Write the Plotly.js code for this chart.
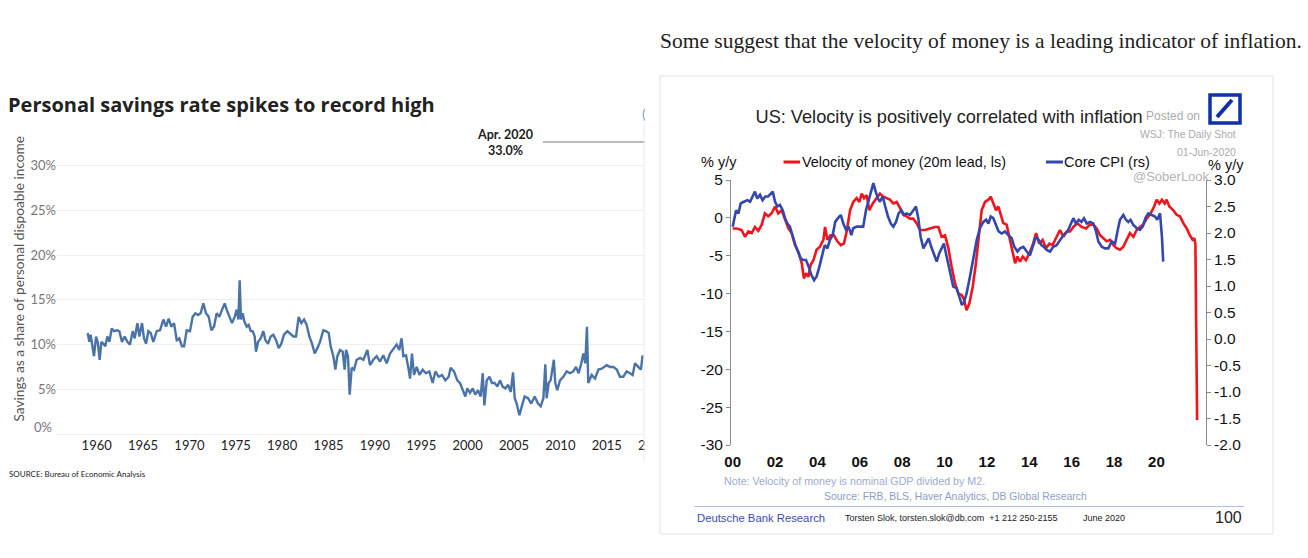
<!DOCTYPE html>
<html><head><meta charset="utf-8">
<script src="https://cdn.plot.ly/plotly-3.0.1.min.js"></script>
<style>
html,body{margin:0;padding:0;background:#fff;width:1308px;height:558px;overflow:hidden}
#leftWrap{position:absolute;left:0;top:0;width:645px;height:558px;overflow:hidden}
#left{position:absolute;left:0;top:0;width:720px;height:558px}
#right{position:absolute;left:650px;top:0;width:658px;height:558px}
</style></head><body>
<div id="leftWrap"><div id="left"></div></div>
<div id="right"></div>
<script>
// ---------- Left chart: personal savings rate (%) ----------
const savingsYear = [1959.03,1959.21,1959.35,1959.53,1959.71,1959.93,1960.11,1960.32,1960.5,1960.72,1960.93,1961.15,1961.37,1961.62,1961.87,1962.16,1962.44,1962.73,1963.02,1963.31,1963.59,1963.88,1964.1,1964.39,1964.6,1964.89,1965.1,1965.32,1965.57,1965.82,1966.11,1966.47,1966.83,1967.19,1967.48,1967.76,1968.05,1968.34,1968.63,1968.91,1969.2,1969.42,1969.71,1970.06,1970.35,1970.64,1970.93,1971.21,1971.5,1971.79,1972.08,1972.37,1972.65,1972.94,1973.23,1973.52,1973.8,1974.02,1974.31,1974.59,1974.88,1975.1,1975.28,1975.42,1975.56,1975.74,1975.92,1976.18,1976.39,1976.61,1976.82,1977.04,1977.18,1977.4,1977.69,1977.97,1978.19,1978.48,1978.76,1979.05,1979.34,1979.63,1979.91,1980.2,1980.56,1980.92,1981.21,1981.5,1981.78,1982.07,1982.36,1982.65,1982.93,1983.22,1983.51,1983.8,1984.08,1984.44,1984.73,1985.02,1985.23,1985.52,1985.74,1985.95,1986.24,1986.53,1986.74,1986.89,1987.1,1987.28,1987.5,1987.75,1988.04,1988.4,1988.76,1989.19,1989.47,1989.83,1990.19,1990.55,1990.91,1991.27,1991.63,1992.06,1992.35,1992.63,1992.88,1993.07,1993.36,1993.64,1993.79,1994.0,1994.22,1994.51,1994.8,1995.16,1995.51,1995.87,1996.23,1996.52,1996.88,1997.24,1997.6,1997.96,1998.17,1998.53,1998.89,1999.18,1999.47,1999.75,1999.97,2000.26,2000.55,2000.83,2001.12,2001.41,2001.63,2001.81,2002.06,2002.35,2002.63,2002.92,2003.21,2003.49,2003.78,2004.07,2004.36,2004.65,2004.9,2005.08,2005.29,2005.58,2005.87,2006.15,2006.51,2006.87,2007.23,2007.59,2007.88,2008.17,2008.38,2008.52,2008.74,2008.95,2009.3,2009.45,2009.67,2009.96,2010.32,2010.68,2011.04,2011.4,2011.69,2011.97,2012.26,2012.48,2012.69,2012.87,2013.01,2013.38,2013.74,2014.1,2014.46,2015.0,2015.36,2015.72,2016.08,2016.43,2016.79,2017.15,2017.51,2017.8,2018.05,2018.4,2018.69,2018.87];
const savingsRate = [11.3,10.3,11.1,10.1,8.7,10.9,10.3,8.3,10.3,10.1,9.8,10.9,10.3,11.8,11.5,11.6,11.5,10.3,10.9,10.3,10.0,11.5,10.7,12.4,10.9,12.4,10.7,10.1,11.5,11.3,10.3,11.5,11.6,12.8,12.0,12.9,12.0,12.4,10.5,10.7,9.8,9.8,11.6,11.5,13.1,13.5,13.3,13.5,14.6,13.5,13.1,11.6,12.0,13.5,13.1,13.9,14.6,13.9,13.1,12.4,13.1,13.9,12.8,17.2,12.8,13.5,12.6,12.0,12.2,11.5,11.5,10.9,9.2,10.3,10.7,11.5,10.5,10.1,10.9,11.1,10.5,9.6,10.1,11.1,11.5,11.1,10.9,10.9,13.1,12.4,12.8,12.2,10.9,10.1,9.0,9.6,10.3,11.6,11.5,11.3,9.8,8.7,7.2,8.7,9.4,9.2,7.2,9.4,8.7,4.4,7.4,7.2,8.3,8.5,8.3,9.4,7.7,8.3,8.7,8.1,8.8,7.9,9.0,9.6,10.0,9.4,10.7,8.7,8.8,7.2,6.2,9.0,6.6,7.5,6.6,7.2,6.8,7.0,5.7,7.0,6.4,6.6,6.0,6.4,7.4,7.0,6.0,5.7,4.9,4.2,5.1,4.6,5.1,4.4,4.9,4.2,6.8,3.2,6.0,6.4,5.7,5.7,5.3,6.0,5.3,5.1,5.5,4.7,6.9,4.0,3.4,2.1,3.2,4.2,4.0,3.4,4.2,3.4,3.1,4.0,7.8,4.0,5.7,6.0,8.3,5.7,4.9,6.0,6.4,7.0,6.8,7.0,7.5,6.8,7.9,9.0,7.9,12.0,5.7,6.6,6.2,7.2,7.3,7.7,7.5,7.5,7.2,6.4,6.4,7.0,6.8,6.6,7.9,7.5,7.2,8.8];
const leftYearTicks = [1960,1965,1970,1975,1980,1985,1990,1995,2000,2005,2010,2015,2020];
const leftPctTicks = [0,5,10,15,20,25,30];
const leftPctLabels = ['0%','5%','10%','15%','20%','25%','30%'];

// ---------- Right chart: velocity of money vs core CPI ----------
const velYear = [2000.0,2000.19,2000.42,2000.58,2000.74,2000.9,2001.05,2001.21,2001.37,2001.52,2001.68,2001.84,2002.0,2002.15,2002.31,2002.47,2002.63,2002.78,2002.94,2003.1,2003.26,2003.36,2003.46,2003.57,2003.68,2003.81,2003.96,2004.12,2004.28,2004.36,2004.47,2004.62,2004.78,2004.94,2005.1,2005.25,2005.38,2005.54,2005.69,2005.85,2005.98,2006.09,2006.2,2006.32,2006.45,2006.61,2006.8,2006.95,2007.11,2007.27,2007.42,2007.58,2007.74,2007.9,2008.05,2008.21,2008.37,2008.52,2008.68,2008.84,2009.08,2009.31,2009.55,2009.71,2009.86,2010.02,2010.18,2010.33,2010.49,2010.65,2010.81,2010.92,2011.04,2011.17,2011.33,2011.48,2011.59,2011.75,2011.91,2012.07,2012.18,2012.3,2012.43,2012.54,2012.65,2012.77,2012.93,2013.09,2013.22,2013.33,2013.44,2013.56,2013.69,2013.84,2014.0,2014.16,2014.32,2014.47,2014.63,2014.79,2014.95,2015.1,2015.29,2015.45,2015.61,2015.76,2015.92,2016.08,2016.27,2016.47,2016.68,2016.86,2017.02,2017.18,2017.34,2017.49,2017.65,2017.81,2017.97,2018.12,2018.28,2018.44,2018.6,2018.75,2018.91,2019.07,2019.22,2019.38,2019.54,2019.73,2019.89,2020.01,2020.14,2020.26,2020.39,2020.48,2020.61,2020.8,2020.95,2021.11,2021.27,2021.43,2021.58,2021.71,2021.79,2021.84,2021.92];
const velocity = [-1.4,-1.4,-1.6,-2.5,-1.8,-2.0,-1.2,-1.7,-0.9,0.6,0.2,0.6,1.5,0.6,1.0,-0.1,-1.4,-2.0,-3.6,-4.5,-6.0,-8.0,-7.3,-7.8,-6.2,-5.6,-4.2,-3.8,-2.9,-1.2,-2.9,-2.3,-2.3,-3.1,-3.6,-3.4,-1.8,1.0,2.1,2.6,2.1,3.2,2.6,3.0,1.0,1.9,2.6,3.2,2.8,2.6,2.4,1.9,2.1,1.3,0.4,0.2,-0.1,-0.1,-0.7,-1.6,-1.6,-1.4,-1.2,-1.2,-2.5,-2.3,-4.0,-6.4,-8.6,-10.0,-10.2,-10.8,-12.2,-11.3,-9.1,-6.0,-2.9,1.0,2.1,2.4,2.8,1.9,1.0,1.5,0.4,-0.7,-0.9,-2.9,-4.2,-6.0,-5.1,-5.8,-5.1,-5.6,-4.7,-3.6,-2.0,-3.4,-2.9,-4.0,-3.4,-3.6,-2.5,-1.6,-2.5,-1.8,-1.8,-1.2,-0.7,-1.2,-1.4,-0.9,-0.9,-1.4,-2.3,-2.7,-3.1,-2.9,-3.6,-4.0,-4.2,-3.8,-2.9,-2.0,-2.5,-1.6,-1.2,-0.9,-0.1,0.6,1.5,2.4,1.9,2.4,1.9,2.4,1.5,1.0,0.4,0.2,-0.7,-1.4,-2.3,-2.9,-2.7,-3.5,-26.7];
const cpiYear = [2000.0,2000.06,2000.16,2000.27,2000.38,2000.53,2000.69,2000.82,2000.94,2001.05,2001.16,2001.29,2001.41,2001.54,2001.67,2001.79,2001.89,2002.0,2002.11,2002.23,2002.36,2002.47,2002.58,2002.7,2002.83,2002.96,2003.08,2003.21,2003.33,2003.46,2003.59,2003.71,2003.84,2003.96,2004.09,2004.21,2004.34,2004.47,2004.59,2004.72,2004.84,2004.97,2005.1,2005.22,2005.35,2005.47,2005.6,2005.69,2005.85,2006.01,2006.16,2006.29,2006.42,2006.54,2006.64,2006.75,2006.86,2006.95,2007.08,2007.2,2007.33,2007.46,2007.58,2007.71,2007.83,2007.96,2008.09,2008.21,2008.37,2008.53,2008.65,2008.76,2008.87,2009.0,2009.12,2009.25,2009.37,2009.5,2009.63,2009.75,2009.88,2009.97,2010.1,2010.26,2010.41,2010.57,2010.7,2010.82,2010.92,2011.04,2011.2,2011.36,2011.52,2011.67,2011.83,2011.96,2012.07,2012.18,2012.3,2012.43,2012.55,2012.7,2012.85,2013.01,2013.17,2013.29,2013.44,2013.56,2013.72,2013.88,2014.03,2014.16,2014.32,2014.44,2014.57,2014.69,2014.82,2014.98,2015.13,2015.29,2015.45,2015.61,2015.8,2015.95,2016.08,2016.2,2016.33,2016.46,2016.58,2016.71,2016.87,2017.02,2017.15,2017.26,2017.42,2017.57,2017.73,2017.89,2018.05,2018.16,2018.28,2018.44,2018.56,2018.67,2018.78,2018.91,2019.07,2019.22,2019.35,2019.48,2019.62,2019.78,2019.93,2020.04,2020.17,2020.26,2020.32];
const coreCPI = [2.12,2.25,2.43,2.37,2.56,2.59,2.62,2.59,2.69,2.78,2.65,2.72,2.62,2.69,2.69,2.75,2.78,2.59,2.50,2.53,2.43,2.28,2.18,2.12,1.93,1.77,1.65,1.52,1.49,1.49,1.36,1.21,1.11,1.18,1.36,1.58,1.77,1.71,1.87,1.96,2.21,2.28,2.34,2.18,2.06,2.12,1.96,2.09,2.12,2.12,2.12,2.43,2.62,2.81,2.94,2.78,2.65,2.59,2.69,2.50,2.31,2.18,2.12,2.21,2.37,2.43,2.34,2.37,2.34,2.43,2.50,2.28,1.93,1.71,1.80,1.90,1.74,1.58,1.46,1.62,1.74,1.80,1.55,1.24,0.99,0.96,0.77,0.64,0.70,0.86,1.18,1.49,1.87,2.09,2.21,2.25,2.18,2.31,2.28,2.15,2.03,1.99,2.03,1.96,1.90,1.74,1.65,1.71,1.74,1.65,1.58,1.74,1.93,1.87,1.77,1.74,1.68,1.65,1.74,1.77,1.87,1.96,2.03,2.15,2.28,2.18,2.25,2.21,2.28,2.18,2.21,2.18,2.03,1.84,1.74,1.71,1.71,1.84,1.80,2.03,2.25,2.34,2.25,2.21,2.25,2.15,2.09,2.06,2.12,2.28,2.37,2.34,2.31,2.25,2.37,1.93,1.46];
const rightYearTicks = [2000,2002,2004,2006,2008,2010,2012,2014,2016,2018,2020];
const rightYearLabels = ['00','02','04','06','08','10','12','14','16','18','20'];
const zeroLineTicks = [2000,2002,2004,2006,2008,2010,2012,2014,2016,2018,2020,2022];
const leftAxisTicks = [5,0,-5,-10,-15,-20,-25,-30];
const leftAxisLabels = ['5','0','-5','-10','-15','-20','-25','-30'];
const rightAxisTicks = [3.0,2.5,2.0,1.5,1.0,0.5,0.0,-0.5,-1.0,-1.5,-2.0];
const rightAxisLabels = ['3.0','2.5','2.0','1.5','1.0','0.5','0.0','-0.5','-1.0','-1.5','-2.0'];

// ================= LEFT FIGURE =================
const LF = 'Lato, "Open Sans", sans-serif';
const L = {l:57, r:10, t:132, b:122, W:720, H:558};
const LPW = L.W - L.l - L.r, LPH = L.H - L.t - L.b;
const lx = X => (X - L.l) / LPW;
const ly = Y => (L.H - L.b - Y) / LPH;

Plotly.newPlot('left', [{
  x: savingsYear, y: savingsRate, type:'scatter', mode:'lines',
  line:{color:'#4a74a8', width:2.4}, hoverinfo:'skip'
}], {
  width:L.W, height:L.H,
  margin:{l:L.l, r:L.r, t:L.t, b:L.b, pad:0},
  paper_bgcolor:'rgba(0,0,0,0)', plot_bgcolor:'rgba(0,0,0,0)',
  showlegend:false,
  font:{family:LF},
  title:{text:'<b>Personal savings rate spikes to record high</b>', x:8/L.W, xanchor:'left', xref:'container',
         y:1-105/L.H, yanchor:'middle', yref:'container', font:{family:'"Open Sans", Roboto, sans-serif', size:20, color:'#222'}},
  xaxis:{range:[1955.72, 1960 + (L.W - L.r - 96.7)/9.273], tickvals:leftYearTicks, ticktext:leftYearTicks.map(String),
         showgrid:false, zeroline:false, showline:false, ticks:'', tickfont:{family:LF, size:13, color:'#222'}},
  yaxis:{range:[-2/8.943, (434-L.t)/8.943], tickvals:leftPctTicks, ticktext:leftPctLabels.map((t,i)=> i===0 ? '' : t),
         showgrid:true, gridcolor:'#efefef', gridwidth:1, zeroline:false, showline:false, ticks:'',
         tickfont:{family:LF, size:13, color:'#777'}},
  annotations:[
    {text:'Savings as a share of personal dispoable income', textangle:-90, xref:'paper', yref:'paper',
     x:lx(18), y:ly(278.5), xanchor:'center', yanchor:'middle', showarrow:false, font:{family:LF, size:13.7, color:'#555'}},
    {text:leftPctLabels[0], xref:'paper', yref:'paper', x:lx(54), y:ly(427), xanchor:'right', yanchor:'middle',
     showarrow:false, font:{family:LF, size:13, color:'#777'}},
    {text:'<b>Apr. 2020<br>33.0%</b>', xref:'paper', yref:'paper', x:lx(505), y:ly(142), xanchor:'center', yanchor:'middle',
     align:'center', showarrow:false, font:{family:LF, size:12.5, color:'#222'}},
    {text:'SOURCE: Bureau of Economic Analysis', xref:'paper', yref:'paper', x:lx(7), y:ly(473.5), xanchor:'left', yanchor:'middle',
     showarrow:false, font:{family:LF, size:8, color:'#222'}},
    {text:'(', xref:'paper', yref:'paper', x:lx(640), y:ly(113), xanchor:'left', yanchor:'middle',
     showarrow:false, font:{family:LF, size:14, color:'#8aa3c6'}}
  ],
  shapes:[
    {type:'line', xref:'paper', yref:'paper', x0:lx(543), x1:lx(700), y0:ly(142), y1:ly(142), line:{color:'#777', width:1}},
    {type:'line', xref:'paper', yref:'paper', x0:lx(644), x1:lx(644), y0:ly(122), y1:ly(462), line:{color:'#ececec', width:1}}
  ]
}, {displayModeBar:false, staticPlot:true});

// ================= RIGHT FIGURE =================
const RF = '"Liberation Sans", Arial, sans-serif';
const R = {off:650, W:658, H:558, px0:731, px1:1206, py0:180, py1:445};
const rx = X => (X - R.px0) / (R.px1 - R.px0);
const ry = Y => (R.py1 - Y) / (R.py1 - R.py0);
const ann = (text, X, Y, size, color, opts={}) => Object.assign({
  text, xref:'paper', yref:'paper', x:rx(X), y:ry(Y), xanchor:'left', yanchor:'middle', showarrow:false,
  font:{family:RF, size, color}}, opts);

const zeroPos = (0 - (-30)) / (5 - (-30));

Plotly.newPlot('right', [
  {x:velYear, y:velocity, type:'scatter', mode:'lines', name:'Velocity of money (20m lead, ls)',
   line:{color:'#f2141c', width:2.6}, xaxis:'x', yaxis:'y', hoverinfo:'skip'},
  {x:cpiYear, y:coreCPI, type:'scatter', mode:'lines', name:'Core CPI (rs)',
   line:{color:'#3447ad', width:2.6}, xaxis:'x', yaxis:'y2', hoverinfo:'skip'}
], {
  width:R.W, height:R.H,
  margin:{l:R.px0 - R.off, r:R.W - (R.px1 - R.off), t:R.py0, b:R.H - R.py1, pad:0},
  paper_bgcolor:'rgba(0,0,0,0)', plot_bgcolor:'rgba(0,0,0,0)',
  showlegend:false,
  font:{family:RF},
  title:{text:'US: Velocity is positively correlated with inflation', x:(755.5 - R.off)/R.W, xanchor:'left', xref:'container',
         y:1-117/R.H, yanchor:'middle', yref:'container', font:{family:RF, size:18.2, color:'#222'}},
  xaxis:{range:[1999.92, 2022.34], tickvals:rightYearTicks, ticktext:rightYearLabels.map(t=>'<b>'+t+'</b>'),
         showgrid:false, zeroline:false, showline:false, ticks:'', ticklabelstandoff:6,
         tickfont:{family:RF, size:15, color:'#111'}},
  xaxis2:{range:[1999.92, 2022.34], overlaying:'x', anchor:'free', position:zeroPos, side:'bottom',
          showline:true, linecolor:'#8a8a8a', linewidth:1, ticks:'outside', ticklen:4, tickcolor:'#8a8a8a',
          tickvals:zeroLineTicks, showticklabels:false, showgrid:false, zeroline:false},
  yaxis:{range:[-30,5], tickvals:leftAxisTicks, ticktext:leftAxisLabels, showline:true, linecolor:'#8a8a8a', linewidth:1,
         ticks:'outside', ticklen:4, tickcolor:'#8a8a8a', showgrid:false, zeroline:false,
         tickfont:{family:RF, size:15.5, color:'#111'}},
  yaxis2:{range:[-2,3], overlaying:'y', side:'right', anchor:'x', tickvals:rightAxisTicks, ticktext:rightAxisLabels,
          showline:true, linecolor:'#8a8a8a', linewidth:1, ticks:'outside', ticklen:4, tickcolor:'#8a8a8a',
          showgrid:false, zeroline:false, tickfont:{family:RF, size:15.5, color:'#111'}},
  annotations:[
    ann('Some suggest that the velocity of money is a leading indicator of inflation.', 658, 41, 21.5, '#222',
        {font:{family:'"Liberation Serif", "DejaVu Serif", serif', size:21.5, color:'#222'}}),
    ann('Posted on', 1144, 116.5, 12, '#ababab'),
    ann('WSJ: The Daily Shot', 1238, 134, 10.4, '#ababab', {xanchor:'right'}),
    ann('01-Jun-2020', 1238, 152, 10.5, '#ababab', {xanchor:'right'}),
    ann('% y/y', 698.5, 162, 14.5, '#111'),
    ann('Velocity of money (20m lead, ls)', 800, 162, 14.4, '#111'),
    ann('Core CPI (rs)', 1062, 162, 14.6, '#111'),
    ann('@SoberLook', 1212, 176.5, 13, '#b4b4b4', {xanchor:'right'}),
    ann('% y/y', 1206, 165, 14.5, '#111'),
    ann('Note: Velocity of money is nominal GDP divided by M2.', 722, 480.5, 10.7, '#9eabcf'),
    ann('Source: FRB, BLS, Haver Analytics, DB Global Research', 822, 496, 10.4, '#8e9dc6'),
    ann('Deutsche Bank Research', 695, 517.5, 11.3, '#3a4db3'),
    ann('Torsten Slok, torsten.slok@db.com  +1 212 250-2155', 843, 518, 9, '#222'),
    ann('June 2020', 1081, 518, 9, '#222'),
    ann('100', 1213, 517, 16, '#222')
  ],
  shapes:[
    {type:'rect', xref:'paper', yref:'paper', x0:rx(660), x1:rx(1273), y0:ry(76), y1:ry(534), line:{color:'#e2e2e2', width:1}, layer:'below'},
    {type:'line', xref:'paper', yref:'paper', x0:rx(694), x1:rx(1244), y0:ry(506.5), y1:ry(506.5), line:{color:'#b3bfdc', width:1}},
    {type:'line', xref:'paper', yref:'paper', x0:rx(783.5), x1:rx(800), y0:ry(162), y1:ry(162), line:{color:'#f2141c', width:3}},
    {type:'line', xref:'paper', yref:'paper', x0:rx(1046), x1:rx(1063), y0:ry(162), y1:ry(162), line:{color:'#3447ad', width:3}},
    {type:'rect', xref:'paper', yref:'paper', x0:rx(1210), x1:rx(1240), y0:ry(95), y1:ry(123), line:{color:'#1230a8', width:3.5}},
    {type:'line', xref:'paper', yref:'paper', x0:rx(1217), x1:rx(1232), y0:ry(117), y1:ry(100), line:{color:'#1230a8', width:4}}
  ]
}, {displayModeBar:false, staticPlot:true});
</script>
</body></html>
